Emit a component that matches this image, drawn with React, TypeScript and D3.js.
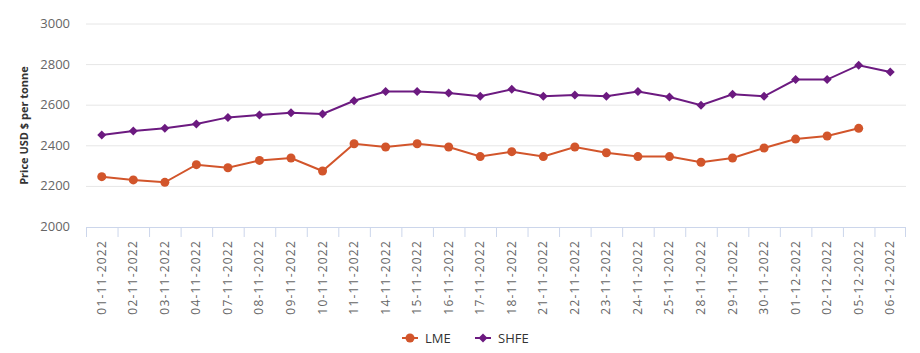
import React from "react";
import * as d3 from "d3";

const categories = [
  "01-11-2022", "02-11-2022", "03-11-2022", "04-11-2022", "07-11-2022", "08-11-2022",
  "09-11-2022", "10-11-2022", "11-11-2022", "14-11-2022", "15-11-2022", "16-11-2022",
  "17-11-2022", "18-11-2022", "21-11-2022", "22-11-2022", "23-11-2022", "24-11-2022",
  "25-11-2022", "28-11-2022", "29-11-2022", "30-11-2022", "01-12-2022", "02-12-2022",
  "05-12-2022", "06-12-2022",
];
const lme: (number | null)[] = [
  2248, 2232, 2220, 2307, 2292, 2328, 2340, 2276, 2410, 2394, 2410, 2394, 2347, 2371,
  2347, 2394, 2366, 2347, 2347, 2319, 2340, 2389, 2433, 2448, 2486, null,
];
const shfe: (number | null)[] = [
  2453, 2473, 2486, 2507, 2540, 2552, 2563, 2557, 2622, 2667, 2667, 2660, 2644, 2678,
  2644, 2650, 2644, 2667, 2640, 2600, 2654, 2644, 2726, 2726, 2797, 2764,
];
const yTicks = [2000, 2200, 2400, 2600, 2800, 3000];
const yTitle = "Price USD $ per tonne";

const W = 920;
const H = 353;
const left = 86;
const right = 906;
const top = 24;
const bottom = 227;
const LME_COLOR = "#d2552b";
const SHFE_COLOR = "#6c1a80";
const FONT = "'Open Sans', 'Noto Sans', sans-serif";

export default function App() {
  const x = d3.scaleBand<string>().domain(categories).range([left, right]);
  const y = d3.scaleLinear().domain([2000, 3000]).range([bottom, top]);
  const cx = (c: string) => (x(c) as number) + x.bandwidth() / 2;
  const line = d3
    .line<number | null>()
    .defined((d) => d !== null)
    .x((_, i) => cx(categories[i]))
    .y((d) => y(d as number));
  const diamond = (px: number, py: number, r: number) =>
    `M${px},${py - r}L${px + r},${py}L${px},${py + r}L${px - r},${py}Z`;

  return (
    <svg
      width={W}
      height={H}
      style={{ position: "absolute", left: 0, top: 0, background: "#fff" }}
      fontFamily={FONT}
    >
      {yTicks.map((t) => (
        <g key={t}>
          {t !== 2000 && (
            <line x1={left} x2={right} y1={y(t)} y2={y(t)} stroke="#e6e6e6" strokeWidth={1} />
          )}
          <text x={70} y={y(t) + 4} textAnchor="end" fontSize={13} fill="#666">
            {t}
          </text>
        </g>
      ))}
      <line x1={left} x2={right} y1={bottom + 0.5} y2={bottom + 0.5} stroke="#ccd6eb" />
      {categories.map((c, i) => (
        <line
          key={"tk" + i}
          x1={(x(c) as number) + 0.5}
          x2={(x(c) as number) + 0.5}
          y1={bottom}
          y2={bottom + 10}
          stroke="#ccd6eb"
        />
      ))}
      <line x1={right - 0.5} x2={right - 0.5} y1={bottom} y2={bottom + 10} stroke="#ccd6eb" />
      {categories.map((c, i) => (
        <text
          key={"xl" + i}
          transform={`translate(${cx(c) + 4},${240}) rotate(-90)`}
          textAnchor="end"
          fontSize={12}
          letterSpacing={1.2}
          fill="#666"
        >
          {c}
        </text>
      ))}
      <text
        transform={`translate(28,${(top + bottom) / 2}) rotate(-90)`}
        textAnchor="middle"
        fontSize={11}
        fontWeight="bold"
        fill="#333"
      >
        {yTitle}
      </text>
      <path d={line(lme) || ""} fill="none" stroke={LME_COLOR} strokeWidth={2} />
      <path d={line(shfe) || ""} fill="none" stroke={SHFE_COLOR} strokeWidth={2} />
      {lme.map((v, i) =>
        v === null ? null : (
          <circle key={"lm" + i} cx={cx(categories[i])} cy={y(v)} r={4.5} fill={LME_COLOR} />
        )
      )}
      {shfe.map((v, i) =>
        v === null ? null : (
          <path key={"sh" + i} d={diamond(cx(categories[i]), y(v), 4.5)} fill={SHFE_COLOR} />
        )
      )}
      <g>
        <line x1={402} x2={418} y1={338} y2={338} stroke={LME_COLOR} strokeWidth={2} />
        <circle cx={410} cy={338} r={4.5} fill={LME_COLOR} />
        <text x={425} y={343} fontSize={13} fill="#333">LME</text>
        <line x1={475} x2={491} y1={338} y2={338} stroke={SHFE_COLOR} strokeWidth={2} />
        <path d={diamond(483, 338, 4.5)} fill={SHFE_COLOR} />
        <text x={498} y={343} fontSize={13} fill="#333">SHFE</text>
      </g>
    </svg>
  );
}
